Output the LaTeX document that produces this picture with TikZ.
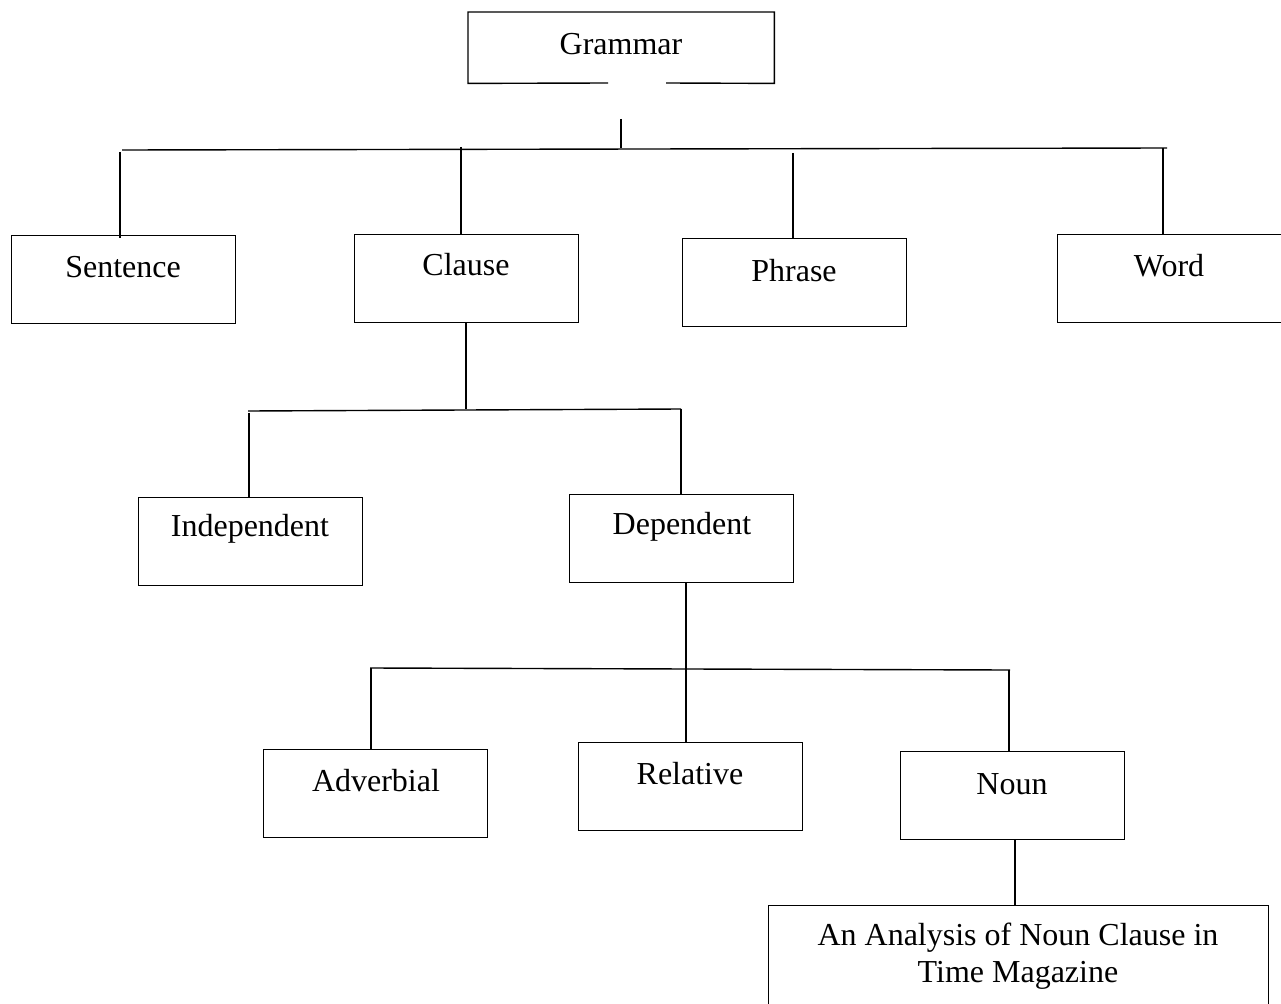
\documentclass[tikz,border=0pt]{standalone}
\usepackage{fontspec}
\setmainfont{Liberation Serif}
\begin{document}
\begin{tikzpicture}[x=1pt,y=-1pt,
  box/.style={draw, line width=1.4pt, minimum width=224pt, minimum height=88pt, inner sep=0pt, anchor=north west},
  lbl/.style={font=\fontsize{32}{37}\selectfont, inner sep=0pt, align=center},
  con/.style={line width=1.4pt}]
\useasboundingbox (0,0) rectangle (1281,1003);
\clip (0,0) rectangle (1281,1003);
\fill[white] (0,0) rectangle (1281,1003);
% Grammar box with gap in bottom edge
\node[minimum width=306pt, minimum height=71pt, inner sep=0pt, anchor=north west] (grammar) at (468,12) {};
\node[lbl] (grammarT) at (621,44) {Grammar};
\coordinate (gl) at (608,83);
\coordinate (gr) at (666,83);
\draw[con] (gl) -- (grammar.south west) -- (grammar.north west) -- (grammar.north east) -- (grammar.south east) -- (gr);
% level 1 boxes
\node[box] (sentence) at (11,235) {};
\node[lbl] at (123,267) {Sentence};
\node[box] (clause) at (354,234) {};
\node[lbl] at (466,265) {Clause};
\node[box] (phrase) at (682,238) {};
\node[lbl] at (794,271) {Phrase};
\node[box, minimum width=240pt] (word) at (1057,234) {};
\node[lbl] at (1169,266) {Word};
% level 2
\node[box] (indep) at (138,497) {};
\node[lbl] at (250,529) {Independent};
\node[box] (dep) at (569,494) {};
\node[lbl] at (682,527) {Dependent};
% level 3
\node[box] (adv) at (263,749) {};
\node[lbl] at (376,781) {Adverbial};
\node[box] (rel) at (578,742) {};
\node[lbl] at (690,774) {Relative};
\node[box] (noun) at (900,751) {};
\node[lbl] at (1012,784) {Noun};
% bottom box
\node[box, minimum width=500pt, minimum height=120pt] (analysis) at (768,905) {};
\node[lbl] at (1018,956) {An Analysis of Noun Clause in\\Time Magazine};
% connectors: Grammar level
\coordinate (g1) at (621,119);
\coordinate (g2) at (621,148);
\coordinate (hL) at (122,150);
\coordinate (hR) at (1167,148);
\draw[con] (g1) -- (g2);
\draw[con] (hL) -- (hR);
\draw[con] (120,152) -- (120,238);
\draw[con] (461,147) -- (461,234);
\draw[con] (793,153) -- (793,238);
\draw[con] (1163,148) -- (1163,234);
% Clause level
\draw[con] (clause.south -| 466,0) -- (466,409);
\draw[con] (248,411) -- (681,409);
\draw[con] (249,413) -- (249,497);
\draw[con] (681,409) -- (681,494);
% Dependent level
\draw[con] (686,582) -- (686,742);
\draw[con] (370,668) -- (1010,670);
\draw[con] (371,668) -- (371,749);
\draw[con] (1009,670) -- (1009,751);
% Noun to analysis
\draw[con] (1015,839) -- (1015,905);
\end{tikzpicture}
\end{document}
